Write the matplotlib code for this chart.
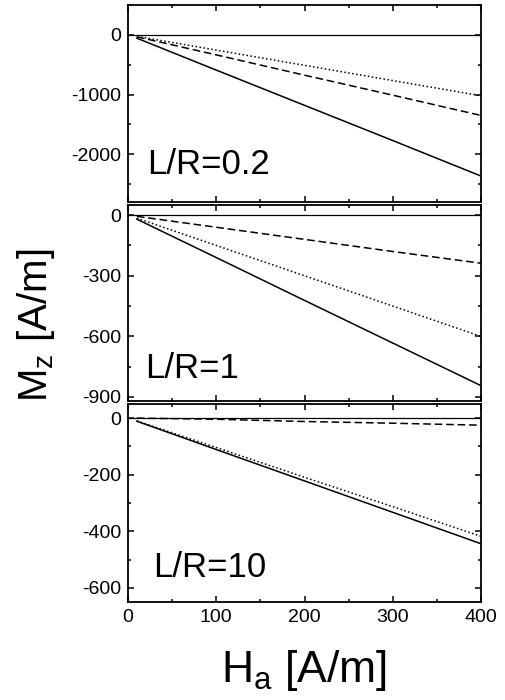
import matplotlib
matplotlib.use("Agg")
from matplotlib import pyplot
from matplotlib.ticker import MultipleLocator

pyplot.rcParams['font.family'] = ['Liberation Sans', 'DejaVu Sans']
pyplot.rcParams['axes.unicode_minus'] = False

# applied field H_a [A/m]
h = [10, 100, 200, 300, 400]

# L/R = 0.2
p1_solid = [-55, -590, -1180, -1770, -2365]
p1_dash = [-32, -335, -675, -1010, -1350]
p1_dot = [-25, -255, -510, -765, -1020]

# L/R = 1
p2_solid = [-20, -210, -422, -633, -844]
p2_dash = [-6, -60, -120, -180, -238]
p2_dot = [-15, -150, -300, -450, -600]

# L/R = 10
p3_solid = [-11, -111, -222, -333, -444]
p3_dash = [0, -4, -12, -18, -25]
p3_dot = [-10, -104, -209, -313, -418]

labels = ["L/R=0.2", "L/R=1", "L/R=10"]
ylims = [(-2800, 500), (-920, 50), (-650, 50)]
majors = [1000, 300, 200]
minors = [500, 150, 100]

fig = pyplot.figure(figsize=(5.05, 7.0), dpi=100)
boxes = [[0.2535, 0.7114, 0.699, 0.2814],
         [0.2535, 0.4271, 0.699, 0.2800],
         [0.2535, 0.1400, 0.699, 0.2829]]
label_pos = [(0.054, 0.14), (0.048, 0.12), (0.071, 0.126)]
series = [(p1_solid, p1_dash, p1_dot),
          (p2_solid, p2_dash, p2_dot),
          (p3_solid, p3_dash, p3_dot)]

for i in range(3):
    ax = fig.add_axes(boxes[i])
    s, d, o = series[i]
    ax.axhline(0, color='black', lw=0.9)
    ax.plot(h, s, color='black', lw=1.1, ls='-')
    ax.plot(h, d, color='black', lw=1.1, ls=(0, (5, 2.5)))
    ax.plot(h, o, color='black', lw=1.1, ls=(0, (1, 1.6)))
    ax.set_xlim(0, 400)
    ax.set_ylim(*ylims[i])
    ax.xaxis.set_major_locator(MultipleLocator(100))
    ax.xaxis.set_minor_locator(MultipleLocator(50))
    ax.yaxis.set_major_locator(MultipleLocator(majors[i]))
    ax.yaxis.set_minor_locator(MultipleLocator(minors[i]))
    ax.tick_params(which='both', direction='in', top=True, right=True,
                   width=1.1, labelsize=14)
    ax.tick_params(which='major', length=4.5, pad=5)
    ax.tick_params(which='minor', length=2.5)
    for sp in ax.spines.values():
        sp.set_linewidth(1.3)
    if i < 2:
        ax.tick_params(labelbottom=False)
    ax.text(label_pos[i][0], label_pos[i][1], labels[i], transform=ax.transAxes,
            fontsize=25, ha='left', va='baseline')
    if i == 2:
        ax.set_xlabel(r'H$_\mathregular{a}$ [A/m]', fontsize=32, labelpad=16)

fig.text(0.072, 0.535, r'M$_\mathregular{z}$ [A/m]', rotation=90, fontsize=29,
         ha='center', va='center')

pyplot.savefig("out.png", dpi=100)
